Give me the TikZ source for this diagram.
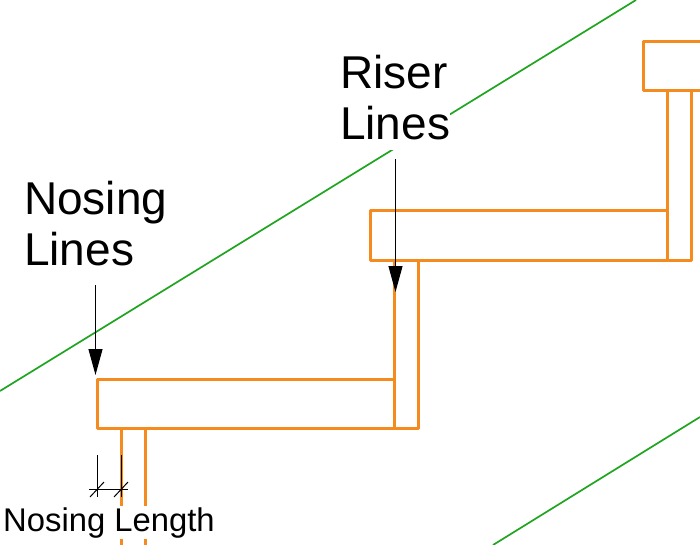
\documentclass[tikz,border=0pt]{standalone}
\usepackage{fontspec}
\setmainfont{Liberation Sans}
\usetikzlibrary{arrows.meta}
\definecolor{stair}{HTML}{F58A1F}
\definecolor{slope}{HTML}{1FA51F}
\tikzset{
  stairline/.style={draw=stair, line width=3pt, line join=round},
  slopeline/.style={draw=slope, line width=1.7pt},
  bigtext/.style={font=\fontsize{46}{51}\selectfont, align=left, fill=white, inner sep=0pt, outer ysep=0pt, anchor=north west},
  smalltext/.style={font=\fontsize{32.8}{36}\selectfont, fill=white, inner sep=0pt, text height=25pt, text depth=8pt, anchor=north west},
  pointer/.style={draw=black, line width=1.1pt, -{Triangle[length=26pt,width=14pt]}},
  dimline/.style={draw=black, line width=1pt}
}
\begin{document}
\begin{tikzpicture}[x=1pt,y=-1pt]
\useasboundingbox (0,0) rectangle (700,545);

\draw[slopeline] (0,391)--(636,0);
\draw[slopeline] (493,545)--(700,417);

\draw[stairline] (121,428)--(121,545);
\draw[stairline] (145,428)--(145,545);
\draw[stairline] (394,379)--(97,379)--(97,428)--(418,428)--(418,260);
\draw[stairline] (394,428)--(394,260);
\draw[stairline] (667,210)--(370,210)--(370,260)--(691,260)--(691,91);
\draw[stairline] (667,260)--(667,91);
\draw[stairline] (700,42)--(643,42)--(643,91)--(700,91);

\node[bigtext, minimum height=105pt] (riser) at (340,45.5) {Riser\\Lines};
\node[bigtext] (nosing) at (24,181) {Nosing\\Lines};
\node[smalltext] (length) at (3,506) {Nosing Length};

\coordinate (nstart) at (95.5,285);
\coordinate (nend) at (95.5,375);
\coordinate (rstart) at (395.5,159);
\coordinate (rend) at (395.5,292);
\draw[pointer] (nstart)--(nend);
\draw[pointer] (rstart)--(rend);

\coordinate (dl) at (97,455);
\coordinate (dr) at (121,455);
\coordinate (dlb) at (97,497);
\coordinate (drb) at (121,497);
\draw[dimline] (dl)--(dlb);
\draw[dimline] (dr)--(drb);
\draw[dimline] (89,489)--(128,489);
\draw[dimline] (90,497)--(104,482);
\draw[dimline] (114,497)--(128,482);
\end{tikzpicture}
\end{document}
